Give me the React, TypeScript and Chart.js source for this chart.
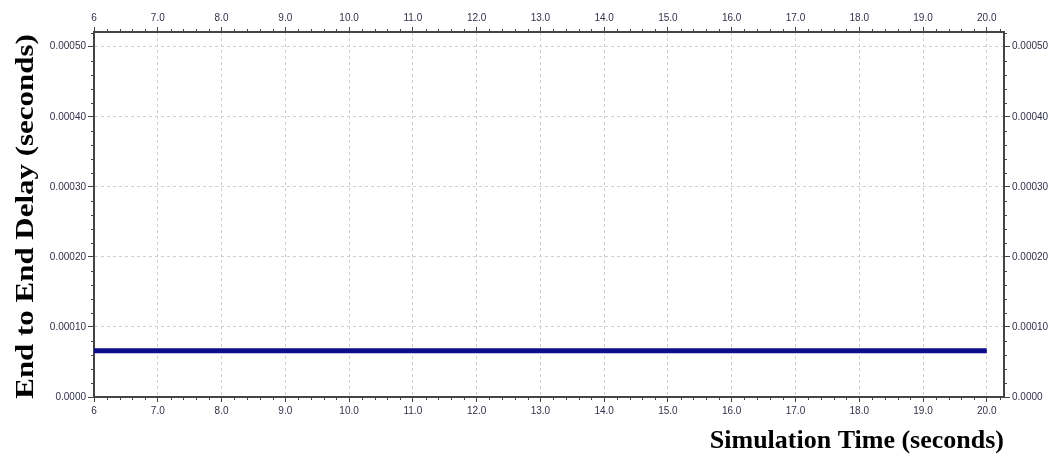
import React, { useEffect, useRef } from "react";
import { Chart, registerables } from "chart.js";

Chart.register(...registerables);

const times = [6, 7, 8, 9, 10, 11, 12, 13, 14, 15, 16, 17, 18, 19, 20];
const delays = [
  0.000066, 0.000066, 0.000066, 0.000066, 0.000066, 0.000066, 0.000066, 0.000066,
  0.000066, 0.000066, 0.000066, 0.000066, 0.000066, 0.000066, 0.000066,
];
const xTickValues = [6, 7, 8, 9, 10, 11, 12, 13, 14, 15, 16, 17, 18, 19, 20];
const xTickLabels = ["6", "7.0", "8.0", "9.0", "10.0", "11.0", "12.0", "13.0", "14.0", "15.0", "16.0", "17.0", "18.0", "19.0", "20.0"];
const yTickValues = [0, 0.0001, 0.0002, 0.0003, 0.0004, 0.0005];
const yTickLabels = ["0.0000", "0.00010", "0.00020", "0.00030", "0.00040", "0.00050"];
const xTitle = "Simulation Time (seconds)";
const yTitle = "End to End Delay (seconds)";

const X_MIN = 6;
const X_MAX = 20.27;
const Y_MIN = 0;
const Y_MAX = 0.000521;

const tickFont = { family: "'Liberation Sans', Arial, sans-serif", size: 10 };
const tickColor = "#30304a";
const borderColor = "#444";
const titleFontFamily = "'Liberation Serif', 'Times New Roman', serif";

const labelFor = (values: number[], labels: string[]) => (v: number | string) => {
  const n = Number(v);
  const i = values.findIndex((t) => Math.abs(t - n) < 1e-9);
  return i >= 0 ? labels[i] : "";
};

const minorTicksPlugin = {
  id: "minorTicks",
  afterDraw(chart: any) {
    const { ctx, chartArea } = chart;
    const x = chart.scales.x;
    const y = chart.scales.y;
    const { left, right, top, bottom } = chartArea;
    ctx.save();
    ctx.strokeStyle = borderColor;
    ctx.lineWidth = 1;
    const len = 3;
    const xStep = (xTickValues[1] - xTickValues[0]) / 5;
    for (let i = 0; ; i++) {
      const v = X_MIN + i * xStep;
      if (v > X_MAX + 1e-9) break;
      if (i % 5 === 0) continue;
      const px = Math.round(x.getPixelForValue(v)) + 0.5;
      ctx.beginPath();
      ctx.moveTo(px, bottom);
      ctx.lineTo(px, bottom + len);
      ctx.moveTo(px, top);
      ctx.lineTo(px, top - len);
      ctx.stroke();
    }
    const yStep = (yTickValues[1] - yTickValues[0]) / 5;
    for (let i = 0; ; i++) {
      const v = Y_MIN + i * yStep;
      if (v > Y_MAX + 1e-12) break;
      if (i % 5 === 0) continue;
      const py = Math.round(y.getPixelForValue(v)) + 0.5;
      ctx.beginPath();
      ctx.moveTo(left, py);
      ctx.lineTo(left - len, py);
      ctx.moveTo(right, py);
      ctx.lineTo(right + len, py);
      ctx.stroke();
    }
    ctx.restore();
  },
};

// Vertical axis title, drawn slightly stretched along its length as in the reference
const yTitlePlugin = {
  id: "yTitleStretched",
  afterDraw(chart: any) {
    const { ctx, chartArea } = chart;
    const cy = (chartArea.top + chartArea.bottom) / 2 + 2;
    ctx.save();
    ctx.translate(26, cy);
    ctx.rotate(-Math.PI / 2);
    ctx.scale(1.19, 1);
    ctx.font = `bold 26px ${titleFontFamily}`;
    ctx.fillStyle = "#000";
    ctx.textAlign = "center";
    ctx.textBaseline = "middle";
    ctx.fillText(yTitle, 0, 0);
    ctx.restore();
  },
};

export default function App() {
  const ref = useRef<HTMLCanvasElement | null>(null);

  useEffect(() => {
    document.body.style.margin = "0";
    const canvas = ref.current;
    if (!canvas) return;
    const points = times.map((t, i) => ({ x: t, y: delays[i] }));

    const xScaleBase = (position: string) => ({
      type: "linear" as const,
      position,
      min: X_MIN,
      max: X_MAX,
      afterBuildTicks: (scale: any) => {
        scale.ticks = xTickValues.map((v) => ({ value: v }));
      },
      ticks: {
        autoSkip: false,
        maxRotation: 0,
        minRotation: 0,
        padding: 3,
        color: tickColor,
        font: tickFont,
        callback: labelFor(xTickValues, xTickLabels),
      },
    });

    const yScaleBase = (position: string) => ({
      type: "linear" as const,
      position,
      min: Y_MIN,
      max: Y_MAX,
      afterBuildTicks: (scale: any) => {
        scale.ticks = yTickValues.map((v) => ({ value: v }));
      },
      ticks: {
        autoSkip: false,
        padding: 2,
        color: tickColor,
        font: tickFont,
        callback: labelFor(yTickValues, yTickLabels),
      },
    });

    const chart = new Chart(canvas, {
      type: "line",
      data: {
        datasets: [
          {
            data: points,
            borderColor: "#0b0b8c",
            backgroundColor: "#0b0b8c",
            borderWidth: 5,
            pointRadius: 0,
            tension: 0,
            xAxisID: "x",
            yAxisID: "y",
          },
        ],
      },
      options: {
        animation: false,
        responsive: true,
        maintainAspectRatio: false,
        layout: { padding: 0 },
        plugins: { legend: { display: false }, tooltip: { enabled: false } },
        scales: {
          x: {
            ...xScaleBase("bottom"),
            afterFit: (scale: any) => {
              scale.height = 62;
            },
            border: { display: true, color: borderColor, width: 2, dash: [3, 3] },
            grid: {
              display: true,
              drawOnChartArea: true,
              drawTicks: true,
              tickLength: 5,
              color: "#cfcfcf",
              tickColor: borderColor,
              lineWidth: 1,
            },
            title: {
              display: true,
              text: xTitle,
              align: "end",
              color: "#000",
              font: { family: titleFontFamily, size: 26, weight: "bold" },
              padding: { top: 0, bottom: 2 },
            },
          } as any,
          x2: {
            ...xScaleBase("top"),
            afterFit: (scale: any) => {
              scale.height = 32;
            },
            border: { display: true, color: borderColor, width: 2 },
            grid: {
              display: true,
              drawOnChartArea: false,
              drawTicks: true,
              tickLength: 5,
              tickColor: borderColor,
            },
          } as any,
          y: {
            ...yScaleBase("left"),
            afterFit: (scale: any) => {
              scale.width = 94;
            },
            border: { display: true, color: borderColor, width: 2, dash: [3, 3] },
            grid: {
              display: true,
              drawOnChartArea: true,
              drawTicks: true,
              tickLength: 6,
              color: "#cfcfcf",
              tickColor: borderColor,
              lineWidth: 1,
            },
          } as any,
          y2: {
            ...yScaleBase("right"),
            afterFit: (scale: any) => {
              scale.width = 49;
            },
            border: { display: true, color: borderColor, width: 2 },
            grid: {
              display: true,
              drawOnChartArea: false,
              drawTicks: true,
              tickLength: 6,
              tickColor: borderColor,
            },
          } as any,
        },
      },
      plugins: [minorTicksPlugin, yTitlePlugin],
    });

    return () => chart.destroy();
  }, []);

  return (
    <div style={{ position: "fixed", left: 0, top: 0, width: 1053, height: 459, background: "#fff" }}>
      <canvas ref={ref} />
    </div>
  );
}
